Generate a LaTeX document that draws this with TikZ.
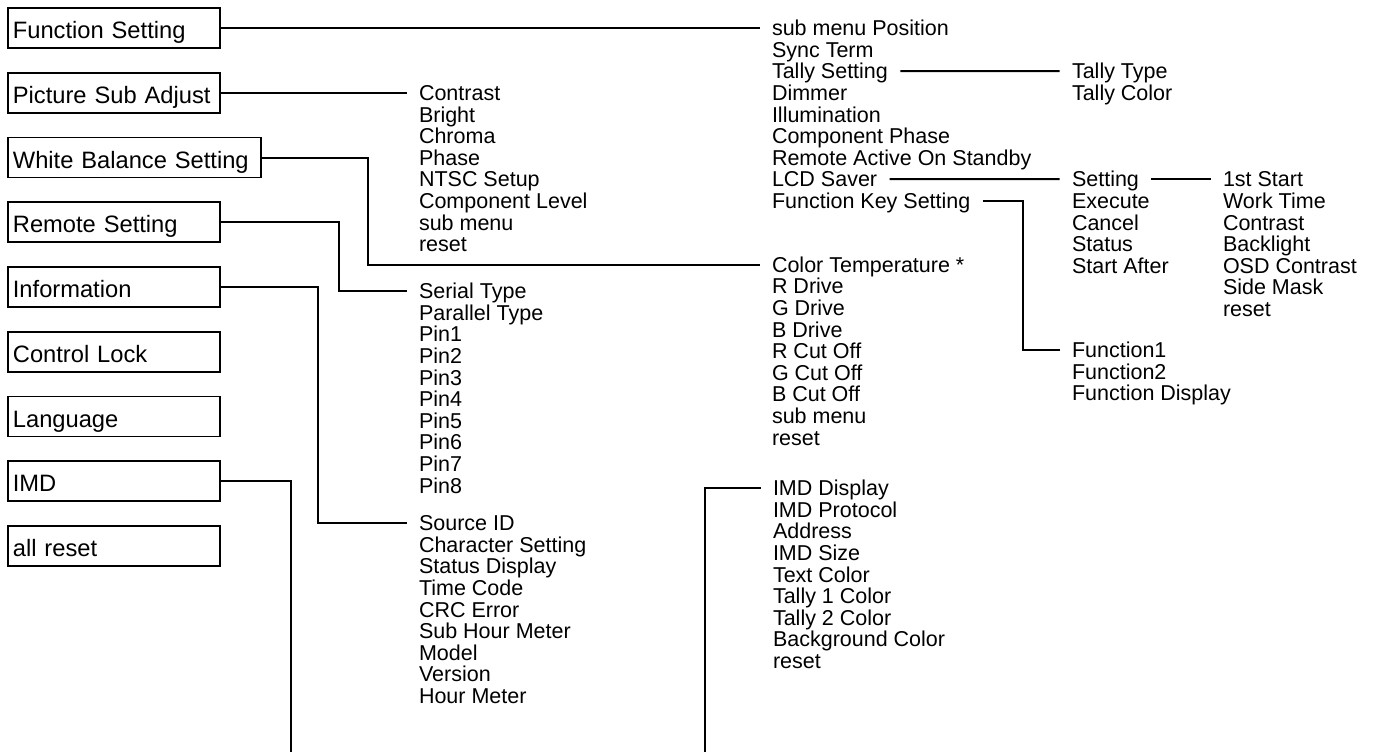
\documentclass[tikz,border=0pt]{standalone}
\usepackage{fontspec}
\setmainfont{Liberation Sans}
\begin{document}
\begin{tikzpicture}[x=1pt,y=-1pt,
  menubox/.style={draw,line width=1.8pt,anchor=west,align=left,text width=202pt,
    inner xsep=5pt,inner ysep=0pt,minimum height=40pt,text height=21pt,text depth=0pt,
    font=\fontsize{23.7}{28}\selectfont},
  entry/.style={anchor=west,inner sep=0pt,outer xsep=12.5pt,text height=15.4pt,
    text depth=0pt,font=\fontsize{21.5}{21.6}\selectfont},
  link/.style={line width=2pt}]
\useasboundingbox (0,0) rectangle (1375,752);
% main menu
\node[menubox] (fun) at (7,28) {Function Setting};
\node[menubox] (pic) at (7,92.75) {Picture Sub Adjust};
\node[menubox,text width=243pt] (wbs) at (7,157.5) {White Balance Setting};
\node[menubox] (rem) at (7,222.25) {Remote Setting};
\node[menubox] (inf) at (7,287) {Information};
\node[menubox] (lock) at (7,351.75) {Control Lock};
\node[menubox] (lang) at (7,416.5) {Language};
\node[menubox] (imd) at (7,481.25) {IMD};
\node[menubox] (all) at (7,546) {all reset};
% sub menus
\foreach \t [count=\i from 0] in {sub menu Position,Sync Term,Tally Setting,Dimmer,
    Illumination,Component Phase,Remote Active On Standby,LCD Saver,Function Key Setting}
  \node[entry] (fs-\i) at (759.5,28+21.6*\i) {\t};
\foreach \t [count=\i from 0] in {Contrast,Bright,Chroma,Phase,NTSC Setup,
    Component Level,sub menu,reset}
  \node[entry] (ps-\i) at (406.5,92.75+21.6*\i) {\t};
\foreach \t [count=\i from 0] in {Color Temperature *,R Drive,G Drive,B Drive,
    R Cut Off,G Cut Off,B Cut Off,sub menu,reset}
  \node[entry] (wb-\i) at (759.5,264.5+21.6*\i) {\t};
\foreach \t [count=\i from 0] in {Serial Type,Parallel Type,Pin1,Pin2,Pin3,Pin4,
    Pin5,Pin6,Pin7,Pin8}
  \node[entry] (rs-\i) at (406.5,291+21.6*\i) {\t};
\foreach \t [count=\i from 0] in {Source ID,Character Setting,Status Display,
    Time Code,CRC Error,Sub Hour Meter,Model,Version,Hour Meter}
  \node[entry] (in-\i) at (406.5,523+21.6*\i) {\t};
\foreach \t [count=\i from 0] in {IMD Display,IMD Protocol,Address,IMD Size,
    Text Color,Tally 1 Color,Tally 2 Color,Background Color,reset}
  \node[entry] (md-\i) at (760.5,488+21.6*\i) {\t};
% third level
\foreach \t [count=\i from 0] in {Tally Type,Tally Color}
  \node[entry] (tl-\i) at (1059.5,71.2+21.6*\i) {\t};
\foreach \t [count=\i from 0] in {Setting,Execute,Cancel,Status,Start After}
  \node[entry] (lcd-\i) at (1059.5,179.2+21.6*\i) {\t};
\foreach \t [count=\i from 0] in {1st Start,Work Time,Contrast,Backlight,
    OSD Contrast,Side Mask,reset}
  \node[entry] (set-\i) at (1210.5,179.2+21.6*\i) {\t};
\foreach \t [count=\i from 0] in {Function1,Function2,Function Display}
  \node[entry] (fk-\i) at (1059.5,350+21.6*\i) {\t};
% IMD line is cut at the page bottom
\coordinate (cutL) at (291,752);
\coordinate (cutR) at (705,752);
% connectors
\draw[link] (fun.east) -- (fs-0.west);
\draw[link] (pic.east) -- (ps-0.west);
\draw[link] (wbs.east) -- ++(106,0) |- (wb-0.west);
\draw[link] (rem.east) -- ++(118,0) |- (rs-0.west);
\draw[link] (inf.east) -- ++(97,0) |- (in-0.west);
\draw[link] (imd.east) -| (cutL);
\draw[link] (cutR) |- (md-0.west);
\draw[link] (fs-2.east) -- (tl-0.west);
\draw[link] (fs-7.east) -- (lcd-0.west);
\draw[link] (lcd-0.east) -- (set-0.west);
\draw[link] (fs-8.east) -| ([xshift=-37pt]fk-0.west) -- (fk-0.west);
\end{tikzpicture}
\end{document}
